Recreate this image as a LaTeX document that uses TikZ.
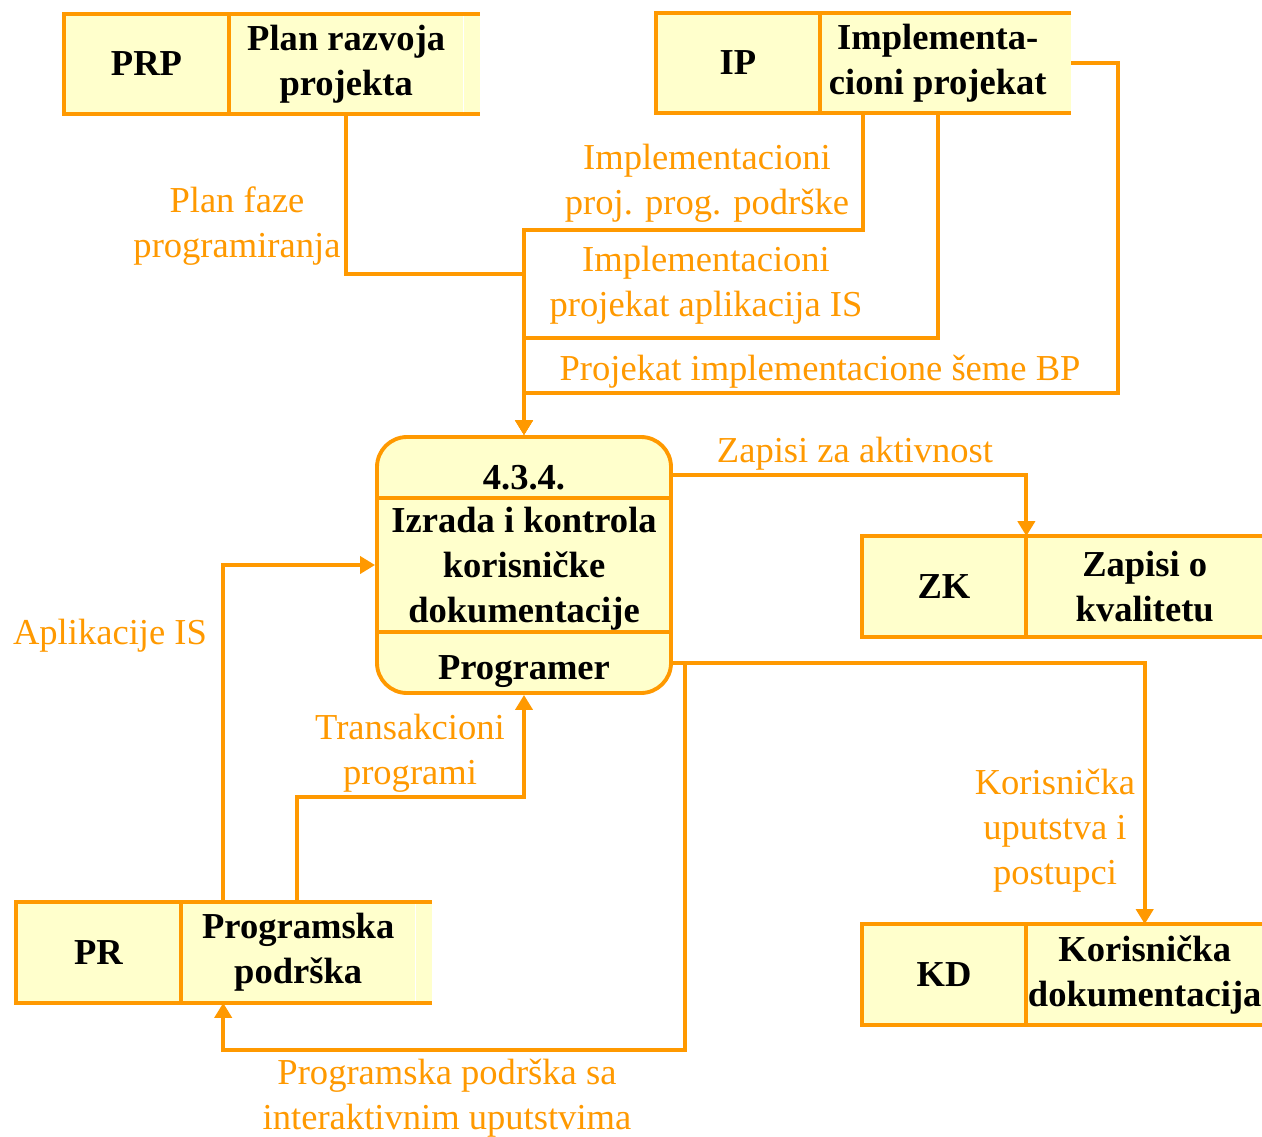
\documentclass[tikz,border=0pt]{standalone}
\usepackage{fontspec}
\setmainfont{Liberation Serif}
\usetikzlibrary{arrows.meta, positioning, calc}
\definecolor{dfdOrange}{HTML}{FF9900}
\definecolor{dfdYellow}{HTML}{FFFFCC}
\newcommand{\dfdfont}{\fontsize{20.8pt}{25.6pt}\selectfont}
\tikzset{
  >={Triangle[length=0.3cm, width=0.34cm]},
  storeid/.style={rectangle, fill=dfdYellow, minimum width=3.28cm,
    minimum height=2cm, inner sep=0pt, font=\dfdfont\bfseries},
  storename/.style={storeid, minimum width=4.68cm, align=center},
  storeline/.style={draw=dfdOrange, line width=2.2pt},
  procbox/.style={rectangle, rounded corners=0.6cm, draw=dfdOrange,
    fill=dfdYellow, line width=2.2pt, minimum width=5.88cm,
    minimum height=5.12cm},
  ptext/.style={font=\dfdfont\bfseries, align=center, inner sep=0pt},
  flow/.style={->, line width=2.2pt, draw=dfdOrange},
  flabel/.style={font=\dfdfont, text=dfdOrange, align=center, inner sep=0pt},
}
\begin{document}
\begin{tikzpicture}
  \useasboundingbox (0,0) rectangle (25.24,-22.72);

  % ---- Data stores --------------------------------------------------------
  \node[storeid] (prp) at (2.93,-1.28) {PRP};
  \node[storename, right=0pt of prp] (prpn) {Plan razvoja\\projekta};
  \node[storeid] (ip) at (14.76,-1.26) {IP};
  \node[storename, right=0pt of ip] (ipn) {Implementa-\\cioni projekat};
  \node[storeid] (zk) at (18.88,-11.73) {ZK};
  \node[storename, minimum width=4.72cm, right=0pt of zk] (zkn) {Zapisi o\\kvalitetu};
  \node[storeid] (kd) at (18.88,-19.49) {KD};
  \node[storename, minimum width=4.72cm, right=0pt of kd] (kdn) {Korisnička\\dokumentacija};
  \node[storeid] (pr) at (1.97,-19.05) {PR};
  \node[storename, right=0pt of pr] (prn) {Programska\\podrška};

  % open-ended outlines of the stores (the top and bottom run on a bit)
  \foreach \s/\ext in {prp/0.32, ip/0.32, zk/0, kd/0, pr/0.32} {
    \fill[dfdYellow] (\s n.north east) rectangle ($(\s n.south east)+(\ext,0)$);
    \draw[storeline] ($(\s n.north east)+(\ext,0)$) -- (\s.north west) -- (\s.south west)
      -- ($(\s n.south east)+(\ext,0)$) (\s.north east) -- (\s.south east);
  }

  % ---- Process 4.3.4. -----------------------------------------------------
  \node[procbox] (proc) at (10.48,-11.30) {};
  \draw[storeline] ($(proc.north west)+(0,-1.26)$) -- ($(proc.north east)+(0,-1.26)$);
  \draw[storeline] ($(proc.south west)+(0,1.26)$) -- ($(proc.south east)+(0,1.26)$);
  \node[ptext] (pnum)  at ($(proc.north)+(0,-0.86)$) {4.3.4.};
  \node[ptext] (pname) at ($(proc.center)+(0,-0.08)$) {Izrada i kontrola\\korisničke\\dokumentacije};
  \node[ptext] (prole) at ($(proc.south)+(0,0.46)$) {Programer};

  % ---- Inputs from above --------------------------------------------------
  \draw[flow] (prpn.south) |- ($(proc.north)+(0,3.22)$) -- (proc.north);
  \draw[flow] ($(ipn.south)+(-1.50,0)$) |- ($(proc.north)+(0,4.10)$) -- (proc.north);
  \draw[flow] (ipn.south) |- ($(proc.north)+(0,1.94)$) -- (proc.north);
  \draw[flow] ($(ipn.east)+(0.32,0)$) -- ++(0.94,0) |- ($(proc.north)+(0,0.84)$) -- (proc.north);

  \node[flabel] (lplan) at (4.74,-4.53) {Plan faze\\programiranja};
  \node[flabel] (lpps)  at (14.14,-3.67) {Implementacioni\\proj. prog. podrške};
  \node[flabel] (lpais) at (14.12,-5.71) {Implementacioni\\projekat aplikacija IS};
  \node[flabel] (lsbp)  at (16.40,-7.43) {Projekat implementacione šeme BP};

  % ---- Outputs --------------------------------------------------------------
  \draw[flow] ($(proc.east)+(0,1.80)$) -| (zk.north east);
  \draw[flow] ($(proc.east)+(0,-1.96)$) -| (kdn.north);
  % branch back to the program support store
  \draw[flow] ($(proc.east)+(0,-1.96)$) -- ++(0.24,0) -- ++(0,-7.74)
    -| ($(prn.south)+(-1.50,0)$);

  \node[flabel] (lza)  at (17.10,-9.07) {Zapisi za aktivnost};
  \node[flabel] (lkup) at (21.10,-16.61) {Korisnička\\uputstva i\\postupci};
  \node[flabel] (lpsi) at (8.94,-21.97) {Programska podrška sa\\interaktivnim uputstvima};

  % ---- Inputs from PR -------------------------------------------------------
  \draw[flow] ($(prn.north)+(-1.50,0)$) |- (proc.west);
  \draw[flow] ($(prn.north)+(-0.02,0)$) |- ($(proc.south)+(0,-2.04)$) -- (proc.south);

  \node[flabel] (lais) at (2.20,-12.71) {Aplikacije IS};
  \node[flabel] (ltp)  at (8.20,-15.07) {Transakcioni\\programi};

\end{tikzpicture}
\end{document}
